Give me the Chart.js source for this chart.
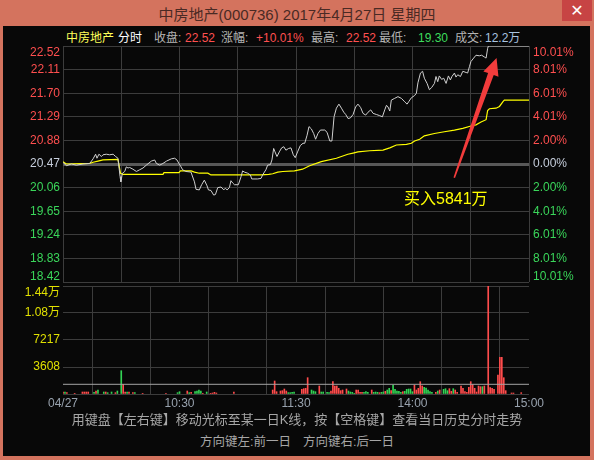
<!DOCTYPE html>
<html>
<head>
<meta charset="utf-8">
<script src="https://cdn.jsdelivr.net/npm/chart.js@4.4.1/dist/chart.umd.min.js"></script>
<style>
  body { margin: 0; width: 594px; height: 460px; background: #d4735e; position: relative; overflow: hidden;
         font-family: "Liberation Sans", "Noto Sans CJK SC", sans-serif; }
  .abs { position: absolute; white-space: nowrap; }
  #frame { left: 3px; top: 26px; width: 587px; height: 430px; background: #080808; }
  #title { left: 0; top: 3px; width: 594px; text-align: center; font-size: 15px; color: #4a2a24; }
  #close { left: 562px; top: 0; width: 30px; height: 21px; background: #c74444; color: #fff; text-align: center; font: 16px/21px "DejaVu Sans", sans-serif; }
  .info { top: 30px; font-size: 12px; line-height: 16px; }
  canvas { position: absolute; left: 0; }
  .note { color: #a6a6a6; }
</style>
</head>
<body>
<div id="frame" class="abs"></div>
<div id="title" class="abs">中房地产(000736) 2017年4月27日 星期四</div>
<div id="close" class="abs">✕</div>

<span class="abs info" style="left:66px;color:#ffff5a">中房地产</span>
<span class="abs info" style="left:118px;color:#ffffff">分时</span>
<span class="abs info" style="left:154px;color:#b4b4b4">收盘:</span>
<span class="abs info" style="left:185px;color:#ff5050">22.52</span>
<span class="abs info" style="left:221px;color:#b4b4b4">涨幅:</span>
<span class="abs info" style="left:256px;color:#ff5050">+10.01%</span>
<span class="abs info" style="left:311px;color:#b4b4b4">最高:</span>
<span class="abs info" style="left:346px;color:#ff5050">22.52</span>
<span class="abs info" style="left:379px;color:#b4b4b4">最低:</span>
<span class="abs info" style="left:418px;color:#3ddc5c">19.30</span>
<span class="abs info" style="left:455px;color:#b4b4b4">成交:</span>
<span class="abs info" style="left:485px;color:#a8c4e0">12.2万</span>

<canvas id="price" width="594" height="250" style="top:40px"></canvas>
<canvas id="volume" width="594" height="136" style="top:280px"></canvas>

<div class="abs" style="left:404px;top:189px;font-size:16px;line-height:20px;color:#ffff00">买入5841万</div>
<div class="abs note" style="left:0;top:411px;width:594px;text-align:center;font-size:13px;line-height:18px">用键盘【左右键】移动光标至某一日K线，按【空格键】查看当日历史分时走势</div>
<div class="abs note" style="left:200px;top:433px;font-size:12.5px;line-height:18px">方向键左:前一日</div>
<div class="abs note" style="left:303px;top:433px;font-size:12.5px;line-height:18px">方向键右:后一日</div>

<script>
const prevClose = 20.47

const priceTicks = [18.42, 18.83, 19.24, 19.65, 20.06, 20.47, 20.88, 21.29, 21.70, 22.11, 22.52]
const priceLabels = ["18.42", "18.83", "19.24", "19.65", "20.06", "20.47", "20.88", "21.29", "21.70", "22.11", "22.52"]
const pctLabels = ["10.01%", "8.01%", "6.01%", "4.01%", "2.00%", "0.00%", "2.00%", "4.01%", "6.01%", "8.01%", "10.01%"]

const volTicks = [0, 3608, 7217, 10825, 14433]
const volLabels = ["", "3608", "7217", "1.08万", "1.44万"]
const volAvgLine = 1296

const xTickMinutes = [0, 60, 120, 180, 240]
const xTickLabels = ["04/27", "10:30", "11:30", "14:00", "15:00"]

// minutes from 9:30 (lunch break removed)
const priceMinutes = [0, 1.7, 4.3, 6.9, 10.3, 13.8, 15.5, 16.8, 17.5, 18.5, 19.8, 20.6, 22.3, 24, 25.8, 27.1, 28.3,
    29.4, 29.8, 30.6, 31.8, 32.6, 33.5, 34.3, 36, 37.8, 39.5, 41.2, 42.9, 45.5, 47.2, 48.1, 49.8, 51.5, 53.3, 55.8,
    57.5, 58.7, 59.7, 60.8, 61.6, 63.3, 65.9, 67.7, 68.5, 70.2, 71.4, 72.8, 74.2, 74.9, 76.2, 77.6, 78.5, 79.7, 81.4,
    82.8, 83.6, 84.5, 85.7, 86.5, 87.4, 88.3, 90.3, 91.7, 92.5, 93.4, 95.1, 96.5, 97.2, 100.3, 102, 102.8, 104.5,
    105.4, 106.8, 107.6, 108.5, 109.2, 110.2, 111.4, 112.6, 113.7, 114.8, 116.2, 117.4, 118.6, 119.6, 120.8, 122.2,
    123.6, 124.5, 125.7, 126.7, 127.9, 129.1, 130.1, 131.3, 132.6, 134.8, 136, 137.4, 138.5, 139.6, 140.8, 142.1,
    143.4, 144.6, 145.6, 146.8, 148, 149.4, 150.7, 151.9, 153.3, 154.5, 155.9, 157.1, 158.5, 159.7, 161.4, 163.1,
    164.5, 165.7, 166.6, 167.4, 168.3, 169.1, 170.8, 172.5, 174.3, 176, 177.2, 178.2, 179.4, 181.1, 182, 182.8,
    184.1, 185.2, 186.1, 187.5, 188.7, 189.9, 191.3, 192.1, 193, 193.8, 195, 196.1, 197.3, 198.5, 199.5, 200.3,
    201.6, 202.4, 203.3, 204.7, 205.9, 207.6, 208.4, 209.3, 210.1, 211.5, 212.7, 214.4, 215.6, 217, 217.9, 218.7,
    219.1, 240]
const prices = [20.50, 20.44, 20.47, 20.45, 20.47, 20.48, 20.56, 20.64, 20.57, 20.64, 20.60, 20.63, 20.64, 20.63, 20.64, 20.60, 20.57,
    20.25, 20.16, 20.31, 20.34, 20.42, 20.40, 20.41, 20.38, 20.34, 20.37, 20.40, 20.45, 20.52, 20.54, 20.48, 20.45, 20.48, 20.52, 20.56,
    20.57, 20.54, 20.48, 20.42, 20.37, 20.34, 20.33, 20.16, 20.03, 20.02, 20.11, 20.19, 20.09, 20.02, 20.01, 19.93, 19.94, 20.06, 20.07,
    20.02, 20.05, 20.02, 20.06, 20.18, 20.14, 20.11, 20.11, 20.25, 20.35, 20.33, 20.31, 20.28, 20.21, 20.21, 20.22, 20.28, 20.37,
    20.45, 20.46, 20.54, 20.74, 20.68, 20.60, 20.68, 20.75, 20.77, 20.71, 20.74, 20.75, 20.63, 20.58, 20.68, 20.79,
    20.83, 20.83, 20.97, 21.12, 21.08, 21.00, 20.90, 21.00, 21.06, 21.06, 21.02, 20.87, 20.87, 21.29, 21.44, 21.51,
    21.44, 21.37, 21.33, 21.26, 21.27, 21.33, 21.46, 21.51, 21.45, 21.35, 21.32, 21.37, 21.41, 21.35, 21.33, 21.31,
    21.29, 21.41, 21.49, 21.46, 21.39, 21.58, 21.61, 21.64, 21.61, 21.55, 21.51, 21.56, 21.62, 21.66, 21.70, 21.88,
    22.05, 22.08, 21.96, 21.87, 21.76, 21.80, 21.87, 21.99, 21.90, 22.00, 21.94, 21.96, 21.87, 22.00, 21.93, 21.99,
    22.05, 21.98, 22.02, 21.99, 22.08, 22.06, 22.05, 22.16, 22.25, 22.31, 22.36, 22.35, 22.36, 22.33, 22.31, 22.48,
    22.52, 22.52]

const avgMinutes = [0, 1.7, 13.8, 15.5, 18, 20.6, 28.3, 29.6, 30.9, 51.5, 52, 59.7, 60.5, 66, 67.7, 70.2, 74.6, 76.2,
    102, 106, 108, 110.6, 113.2, 119.2, 123.4, 127, 133, 140.8, 146.7, 149.4, 151.9, 157.9, 164.8, 168.3, 171.7,
    176.9, 179.4, 181.1, 183.7, 186.1, 191.3, 196.4, 201.6, 205.9, 210.1, 212.7, 215.3, 217.9, 218.7, 219.6, 223,
    224.8, 226.5, 227.3, 240]
const avgPrices = [20.51, 20.47, 20.48, 20.50, 20.52, 20.54, 20.55, 20.31, 20.29, 20.29, 20.32, 20.32, 20.35, 20.35, 20.33, 20.31, 20.31, 20.28,
    20.28, 20.29, 20.30, 20.33, 20.34, 20.35, 20.38, 20.44, 20.51, 20.57, 20.64, 20.66, 20.68, 20.70, 20.71, 20.75, 20.80,
    20.81, 20.83, 20.87, 20.90, 20.96, 21.00, 21.03, 21.06, 21.09, 21.13, 21.15, 21.20, 21.24, 21.40, 21.43, 21.44,
    21.47, 21.55, 21.58, 21.58]

const upMinutes = [0, 2, 6, 10, 11, 12, 13, 17, 22, 27, 31, 32, 34, 36, 41, 53, 64, 66, 72, 76, 77, 78, 79, 88, 108, 109,
    110, 112, 113, 114, 115, 123, 124, 125, 126, 132, 138, 139, 140, 141, 142, 143, 144, 146, 151, 152, 153, 154, 159,
    163, 166, 169, 175, 181, 182, 183, 184, 185, 192, 194, 199, 200, 202, 203, 205, 206, 207, 208, 209, 210, 211, 212,
    213, 214, 215, 217, 219, 220, 221, 222, 224, 225, 226, 227, 228, 231, 232, 236]
const upVolumes = [267, 178, 89, 267, 267, 267, 267, 400, 267, 178, 1296, 267, 267, 178, 89, 89, 400, 223, 89, 89, 134, 223, 134, 267, 534, 1737,
    310, 400, 445, 668, 400, 623, 712, 757, 2181, 1069, 400, 1648, 1069, 1069, 757, 445, 534, 668, 534, 534, 223, 223, 534,
    178, 356, 445, 311, 1202, 534, 757, 1648, 1069, 223, 534, 712, 356, 534, 223, 1069, 757, 311, 223, 890, 1648, 1247, 757,
    267, 1069, 979, 1069, 14433, 846, 757, 623, 2538, 4898, 4898, 2181, 445, 134, 134, 178]

const downMinutes = [1, 16, 18, 21, 23, 25, 28, 30, 33, 37, 59, 60, 65, 68, 69, 70, 71, 74, 116, 117, 118, 119, 128, 129,
    130, 133, 134, 136, 137, 147, 148, 149, 150, 155, 156, 157, 160, 161, 162, 164, 165, 167, 168, 170, 171, 172, 173,
    174, 176, 177, 178, 179, 180, 186, 187, 188, 189, 190, 193, 196, 197, 198, 201, 216]
const downVolumes = [267, 223, 534, 267, 178, 267, 400, 3113, 267, 178, 178, 310, 178, 310, 400, 534, 400, 267, 178, 178, 223, 267, 534, 400,
    311, 267, 267, 223, 178, 400, 267, 223, 89, 223, 311, 223, 223, 267, 223, 223, 267, 534, 757, 1202, 623, 400, 356,
    223, 356, 623, 668, 668, 311, 890, 801, 534, 311, 223, 400, 623, 712, 445, 712, 979]

const arrowTail = { x: 201.5, y: 20.23 }
const arrowTip = { x: 223.3, y: 22.31 }

const red = "#ff4f4f", green = "#3ad65a", grey = "#c6cedc", yellow = "#e0e000"

const sideText = {
    id: "sideText",
    afterDraw(chart, args, o) {
        const ctx = chart.ctx, area = chart.chartArea, y = chart.scales.y
        ctx.save()
        ctx.font = '12px "Liberation Sans", "Noto Sans CJK SC", sans-serif'
        ctx.textBaseline = "middle"
        o.values.forEach((v, i) => {
            let py = y.getPixelForValue(v)
            py = Math.max(area.top + 6.5, Math.min(area.bottom - 5.5, py))
            ctx.textAlign = "right"
            ctx.fillStyle = o.colors[i]
            ctx.fillText(o.left[i], area.left - 3, py)
            if (o.right) {
                ctx.textAlign = "left"
                ctx.fillText(o.right[i], area.right + 4, py)
            }
        })
        ctx.restore()
    }
}

const arrow = {
    id: "arrow",
    afterDatasetsDraw(chart, args, o) {
        if (!o.from) return
        const xs = chart.scales.x, ys = chart.scales.y, ctx = chart.ctx
        const p0 = { x: xs.getPixelForValue(o.from.x), y: ys.getPixelForValue(o.from.y) }
        const p1 = { x: xs.getPixelForValue(o.to.x), y: ys.getPixelForValue(o.to.y) }
        const len = Math.hypot(p1.x - p0.x, p1.y - p0.y)
        const d = { x: (p1.x - p0.x) / len, y: (p1.y - p0.y) / len }
        const n = { x: -d.y, y: d.x }
        const head = 17, headW = 8, neckW = 3, tailW = 0.8
        const b = { x: p1.x - d.x * head, y: p1.y - d.y * head }
        const pts = [
            [p0.x + n.x * tailW, p0.y + n.y * tailW],
            [b.x + n.x * neckW, b.y + n.y * neckW],
            [b.x + n.x * headW, b.y + n.y * headW],
            [p1.x, p1.y],
            [b.x - n.x * headW, b.y - n.y * headW],
            [b.x - n.x * neckW, b.y - n.y * neckW],
            [p0.x - n.x * tailW, p0.y - n.y * tailW]
        ]
        ctx.save()
        ctx.beginPath()
        pts.forEach((p, i) => i ? ctx.lineTo(p[0], p[1]) : ctx.moveTo(p[0], p[1]))
        ctx.closePath()
        ctx.fillStyle = "#f23c3c"
        ctx.fill()
        ctx.restore()
    }
}

const tickColor = v => Math.abs(v - prevClose) < 1e-6 ? grey : (v > prevClose ? red : green)

const priceChart = new Chart(document.getElementById("price"), {
    type: "line",
    data: {
        datasets: [
            {
                data: priceMinutes.map((m, i) => ({ x: m, y: prices[i] })),
                borderColor: "#d0d0d0", borderWidth: 1, pointRadius: 0, tension: 0
            },
            {
                data: avgMinutes.map((m, i) => ({ x: m, y: avgPrices[i] })),
                borderColor: "#ffff00", borderWidth: 1.2, pointRadius: 0, tension: 0
            }
        ]
    },
    options: {
        responsive: false, animation: false, events: [],
        layout: { padding: { left: 0, right: 65, top: 6, bottom: 8 } },
        plugins: {
            legend: { display: false }, tooltip: { enabled: false },
            sideText: {
                values: priceTicks,
                left: priceLabels,
                right: pctLabels.slice().reverse(),
                colors: priceTicks.map(tickColor)
            },
            arrow: { from: arrowTail, to: arrowTip }
        },
        scales: {
            x: {
                type: "linear", min: 0, max: 240,
                ticks: { display: false, stepSize: 30 },
                grid: { color: "#3c3c3c", drawTicks: false },
                border: { display: false },
                afterFit: s => { s.height = 0 }
            },
            y: {
                min: 18.42, max: 22.52,
                afterBuildTicks: s => { s.ticks = priceTicks.map(v => ({ value: v })) },
                ticks: { display: false },
                grid: {
                    drawTicks: false,
                    color: c => Math.abs(c.tick.value - prevClose) < 1e-6 ? "#585858" : "#3c3c3c",
                    lineWidth: c => Math.abs(c.tick.value - prevClose) < 1e-6 ? 3 : 1
                },
                border: { display: false },
                afterFit: s => { s.width = 63 }
            }
        }
    },
    plugins: [sideText, arrow]
})

const volumeChart = new Chart(document.getElementById("volume"), {
    type: "bar",
    data: {
        datasets: [
            {
                type: "line",
                data: [{ x: 0, y: volAvgLine }, { x: 240, y: volAvgLine }],
                borderColor: "#a4a4a4", borderWidth: 1, pointRadius: 0
            },
            {
                data: upMinutes.map((m, i) => ({ x: m, y: upVolumes[i] })),
                backgroundColor: "#ff4c4c", barThickness: 1, grouped: false
            },
            {
                data: downMinutes.map((m, i) => ({ x: m, y: downVolumes[i] })),
                backgroundColor: "#33d455", barThickness: 1, grouped: false
            }
        ]
    },
    options: {
        responsive: false, animation: false, events: [],
        layout: { padding: { left: 0, right: 65, top: 6, bottom: 0 } },
        plugins: {
            legend: { display: false }, tooltip: { enabled: false },
            sideText: {
                values: volTicks,
                left: volLabels,
                colors: volTicks.map(() => yellow)
            }
        },
        scales: {
            x: {
                type: "linear", min: 0, max: 240, offset: false,
                afterBuildTicks: s => { s.ticks = [0, 30, 60, 90, 120, 150, 180, 210, 240].map(v => ({ value: v })) },
                ticks: {
                    autoSkip: false, maxRotation: 0, padding: 2,
                    color: "#98a2ae",
                    font: { size: 12, family: '"Liberation Sans", sans-serif' },
                    callback: v => {
                        const i = xTickMinutes.indexOf(v)
                        return i >= 0 ? xTickLabels[i] : ""
                    }
                },
                grid: { color: "#3c3c3c", drawTicks: false },
                border: { display: false },
                afterFit: s => { s.height = 22 }
            },
            y: {
                min: 0, max: 14433,
                afterBuildTicks: s => { s.ticks = volTicks.map(v => ({ value: v })) },
                ticks: { display: false },
                grid: { color: "#3c3c3c", drawTicks: false },
                border: { display: false },
                afterFit: s => { s.width = 63 }
            }
        }
    },
    plugins: [sideText]
})
</script>
</body>
</html>
